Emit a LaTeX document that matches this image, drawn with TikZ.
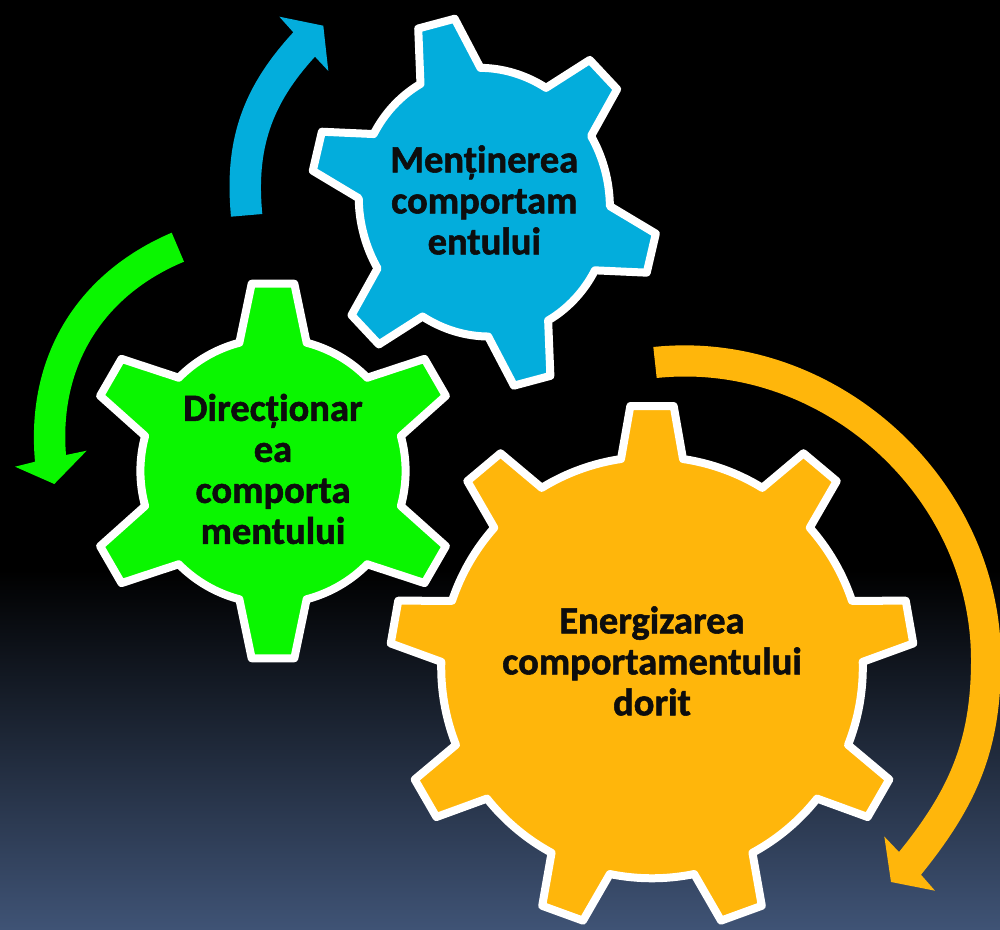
\documentclass[tikz,border=0pt]{standalone}
\usepackage{fontspec}
\setmainfont{Carlito}[BoldFeatures={FakeBold=1.4}]
\usetikzlibrary{shapes,arrows}

\definecolor{gearblue}{HTML}{03ADDC}
\definecolor{geargreen}{HTML}{0AF600}
\definecolor{gearorange}{HTML}{FFB60B}
\definecolor{bgblue}{HTML}{3F5375}

\tikzset{
  gearline/.style={draw=white,line width=8pt,line join=round},
  geartext/.style={align=center,text=black!95,font=\fontsize{38.5}{41}\selectfont\bfseries,inner sep=0pt},
}

% #1 teeth, #2 body radius, #3 tip radius, #4 half angle at base, #5 half angle at tip
\newcommand{\gearpath}[5]{
  (90-#4:#2)
  \foreach \k [evaluate=\k as \sa using 90-(\k-1)*360/#1-#4,
               evaluate=\k as \ea using 90-\k*360/#1+#4,
               evaluate=\k as \ang using 90-\k*360/#1] in {1,...,#1} {
    arc[start angle=\sa,end angle=\ea,radius=#2]
    -- (\ang+#5:#3) -- (\ang-#5:#3) -- (\ang-#4:#2)
  } -- cycle
}

\begin{document}
\begin{tikzpicture}[x=1pt,y=1pt]

  \useasboundingbox (0,0) rectangle (1000,929);
  \fill[black] (0,0) rectangle (1000,929);
  \shade[bottom color=bgblue,top color=black] (0,0) rectangle (1000,359);

  \fill[gearblue] (231,712.3) to[bend left=24] (293.3,896.7) -- (279.3,912.3)
    -- (323.3,903.3) -- (328.3,858) -- (315,872.3) to[bend right=24] (262.3,715) -- cycle;
  \fill[geargreen] (171.7,696.3) to[bend right=36] (35,467.3) -- (15,462.3)
    -- (54.3,445) -- (86.7,478.3) -- (66,474) to[bend left=36] (184,667.3) -- cycle;
  \fill[gearorange] (653.3,582) to[out=6,in=90] (1001,269) to[out=-90,in=51] (921,54.3)
    -- (935,38.3) -- (891,47) -- (884.3,92.5) -- (899,77) to[out=51,in=-90] (971,269)
    to[out=90,in=6] (656.7,551) -- cycle;

  \draw[gearline,fill=gearblue,shift={(484.3,726.8)},rotate=15,xscale=0.925] \gearpath{6}{135}{186}{14.4}{6.3};
  \draw[gearline,fill=geargreen,shift={(273,458)}] \gearpath{6}{132.6}{188.5}{14.7}{6.5};
  \draw[gearline,fill=gearorange,shift={(652,261.5)}] \gearpath{9}{210.8}{262.4}{8.46}{4.74};

  \node[geartext] (n0) at (484.3,729) {Menținerea\\comportam\\entului};
  \node[geartext] (n1) at (273,460) {Direcționar\\ea\\comporta\\mentului};
  \node[geartext] (n2) at (652,268) {Energizarea\\comportamentului\\dorit};

\end{tikzpicture}
\end{document}
